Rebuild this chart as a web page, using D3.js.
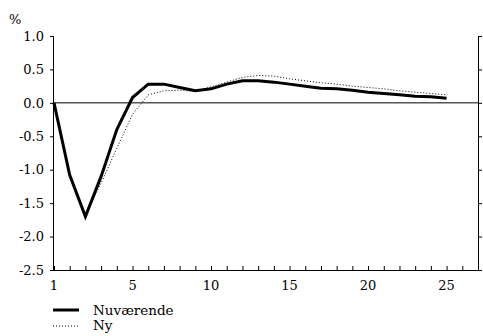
<!DOCTYPE html>
<html><head><meta charset="utf-8">
<script src="https://cdn.jsdelivr.net/npm/d3@7"></script>
<style>body{margin:0;background:#fff}svg{display:block}</style>
</head><body><svg id="c" width="483" height="336"></svg>
<script>
const periods = d3.range(0, 26);
const nuvaerende = [0, -1.08, -1.70, -1.10, -0.40, 0.08, 0.28, 0.28, 0.23, 0.18, 0.21, 0.28, 0.33, 0.33, 0.31, 0.28, 0.25, 0.22, 0.21, 0.19, 0.16, 0.14, 0.12, 0.10, 0.09, 0.07];
const ny = [0, -1.10, -1.67, -1.20, -0.68, -0.17, 0.12, 0.18, 0.19, 0.17, 0.24, 0.31, 0.38, 0.41, 0.40, 0.36, 0.33, 0.30, 0.28, 0.25, 0.23, 0.21, 0.18, 0.16, 0.14, 0.12];
const xTickValues = [0, 5, 10, 15, 20, 25];
const xTickLabels = ["1", "5", "10", "15", "20", "25"];
const yTickValues = [1.0, 0.5, 0.0, -0.5, -1.0, -1.5, -2.0, -2.5];
const seriesNames = ["Nuværende", "Ny"];
const FONT = "DejaVu Serif";

const svg = d3.select("#c");
const x = d3.scaleLinear().domain([0, 27]).range([54, 478]);
const y = d3.scaleLinear().domain([-2.5, 1]).range([270, 36]);

// left axis
svg.append("g").attr("transform", `translate(${x(0)},0)`)
  .call(d3.axisLeft(y).tickValues(yTickValues).tickSize(4).tickPadding(6))
  .call(g => g.select(".domain").attr("d", `M-0.5,${y(1)}V${y(-2.5)}`))
  .call(g => g.selectAll("text").text(d => d.toFixed(1)));
// right axis
svg.append("g").attr("transform", `translate(${x(27)},0)`)
  .call(d3.axisRight(y).tickValues(yTickValues).tickFormat("").tickSize(4))
  .call(g => g.select(".domain").attr("d", `M0.5,${y(1)}V${y(-2.5)}`));
// bottom axis with minor ticks pointing up
svg.append("g").attr("transform", `translate(0,${y(-2.5)})`)
  .call(d3.axisBottom(x).tickValues(d3.range(0, 28)).tickFormat("").tickSize(-4))
  .call(g => g.select(".domain").attr("d", `M${x(0)},0.5H${x(27)}`));
svg.append("g").attr("class", "xl").selectAll("text").data(xTickValues).join("text")
  .attr("x", d => x(d)).attr("y", 290).attr("text-anchor", "middle").text((d, i) => xTickLabels[i]);
svg.selectAll(".tick line").attr("stroke", "#000");
svg.selectAll(".domain").attr("stroke", "#000");

// % label
svg.append("text").attr("class", "pct").attr("x", 9).attr("y", 24).text("%");

// zero line
svg.append("line").attr("x1", x(0)).attr("x2", x(27)).attr("y1", y(0)).attr("y2", y(0))
  .attr("stroke", "#000").attr("stroke-width", 1);

const line = d3.line().x((d, i) => x(periods[i])).y(d => y(d));
svg.append("path").datum(ny).attr("d", line).attr("fill", "none")
  .attr("stroke", "#000").attr("stroke-width", 1).attr("stroke-dasharray", "1,2");
svg.append("path").datum(nuvaerende).attr("d", line).attr("fill", "none")
  .attr("stroke", "#000").attr("stroke-width", 3).attr("stroke-linejoin", "miter");

// legend
const lg = svg.append("g").attr("class", "lg");
lg.append("line").attr("x1", 53).attr("x2", 79).attr("y1", 310).attr("y2", 310).attr("stroke", "#000").attr("stroke-width", 3);
lg.append("text").attr("x", 93).attr("y", 315).text(seriesNames[0]);
lg.append("line").attr("x1", 53).attr("x2", 79).attr("y1", 326).attr("y2", 326).attr("stroke", "#000").attr("stroke-width", 1).attr("stroke-dasharray", "1,2");
lg.append("text").attr("x", 93).attr("y", 330).text(seriesNames[1]);

svg.selectAll("g").attr("font-family", null).attr("font-size", null);
svg.selectAll("text").attr("font-family", FONT).attr("font-size", 13).attr("fill", "#000");
svg.selectAll(".lg text").attr("font-size", 13.5);
</script></body></html>
